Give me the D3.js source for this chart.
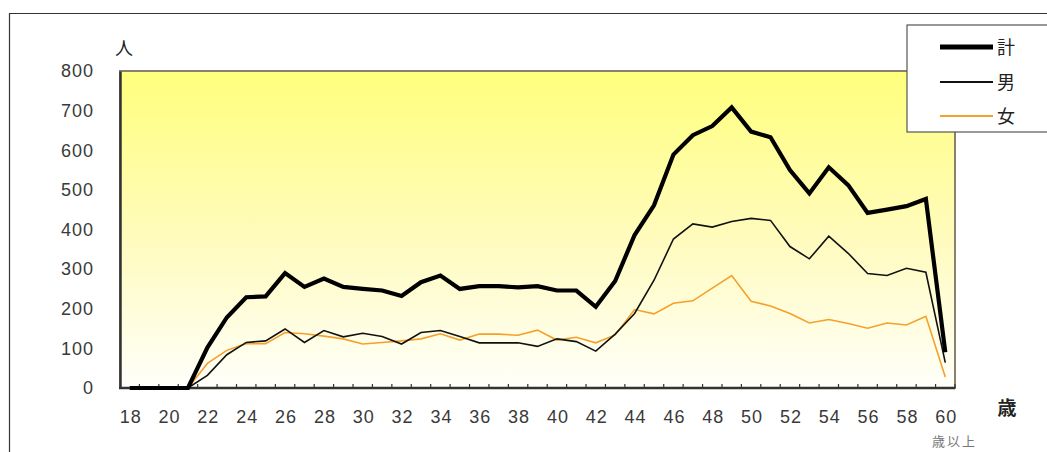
<!DOCTYPE html>
<html>
<head>
<meta charset="utf-8">
<script src="https://cdn.jsdelivr.net/npm/d3@7"></script>
<style>
  body { margin: 0; background: #fff; }
  svg { display: block; font-family: "Liberation Sans", Arial, sans-serif; }
</style>
</head>
<body>
<div id="chart"></div>
<script>
// ages 18 .. 60 (60 = 60歳以上)
var ages = d3.range(18, 61);
var tickAges = d3.range(18, 61, 2);
var yTicks = [0, 100, 200, 300, 400, 500, 600, 700, 800];

var total = [0, 0, 0, 0, 102, 178, 229, 231, 290, 255, 276, 255, 250, 246, 232, 267, 284, 250,
  257, 257, 254, 257, 246, 246, 205, 270, 386, 461, 589, 638, 661, 708, 647, 633, 550, 491,
  557, 512, 442, 450, 459, 477, 90];
var male = [0, 0, 0, 0, 32, 84, 115, 119, 149, 115, 145, 129, 138, 130, 111, 140, 145, 130,
  114, 114, 114, 105, 124, 117, 93, 136, 188, 272, 376, 414, 406, 420, 428, 423, 357, 326,
  383, 340, 289, 284, 302, 292, 64];
var female = [0, 0, 0, 0, 62, 95, 112, 112, 140, 137, 131, 124, 111, 115, 119, 124, 137, 121,
  136, 136, 133, 146, 121, 128, 114, 134, 198, 187, 214, 220, 252, 284, 219, 207, 188, 164,
  173, 163, 151, 164, 159, 181, 28];

var seriesNames = ['計', '男', '女'];
var seriesData = [total, male, female];
var seriesColor = ['#000', '#111', '#f5a02a'];
var seriesWidth = [4.2, 1.6, 1.6];

var W = 1047, H = 452;
var pLeft = 120, pRight = 955, pTop = 71, pBottom = 388;

var svg = d3.select('#chart').append('svg')
  .attr('width', W)
  .attr('height', H);

// outer frame
svg.append('path')
  .attr('d', 'M9.5,' + H + ' V13.5 H' + W)
  .attr('fill', 'none')
  .attr('stroke', '#333')
  .attr('stroke-width', 1.2);

var grad = svg.append('defs').append('linearGradient')
  .attr('id', 'bg')
  .attr('x1', 0).attr('y1', 0).attr('x2', 0).attr('y2', 1);
grad.append('stop').attr('offset', '0%').attr('stop-color', '#ffff7c');
grad.append('stop').attr('offset', '55%').attr('stop-color', '#fffbc0');
grad.append('stop').attr('offset', '100%').attr('stop-color', '#fffffa');

var x = d3.scaleBand().domain(ages).range([pLeft, pRight]);
var y = d3.scaleLinear().domain([0, 800]).range([pBottom, pTop]);

// plot background and border
svg.append('rect')
  .attr('x', pLeft).attr('y', pTop)
  .attr('width', pRight - pLeft).attr('height', pBottom - pTop)
  .attr('fill', 'url(#bg)')
  .attr('stroke', '#8a8070')
  .attr('stroke-width', 2);

// y axis
var yAxis = svg.append('g')
  .attr('transform', 'translate(' + pLeft + ',0)')
  .call(d3.axisLeft(y).tickValues(yTicks).tickSize(0).tickPadding(26));
yAxis.select('.domain').attr('stroke', '#333').attr('stroke-width', 2.5);
yAxis.selectAll('text').attr('fill', '#3a3a3a').style('font-size', '18px')
  .style('letter-spacing', '1px')
  .style('font-family', '"Liberation Sans", Arial, sans-serif');

// x axis: ticks at category boundaries, pointing up
var bounds = ages.slice(1).map(function(a) { return x(a); });
bounds.push(pRight);
svg.append('g').selectAll('line')
  .data(bounds)
  .enter().append('line')
  .attr('x1', function(d) { return d; })
  .attr('x2', function(d) { return d; })
  .attr('y1', pBottom)
  .attr('y2', pBottom - 4)
  .attr('stroke', '#333')
  .attr('stroke-width', 1.2);

svg.append('line')
  .attr('x1', pLeft - 1).attr('x2', pRight)
  .attr('y1', pBottom).attr('y2', pBottom)
  .attr('stroke', '#333')
  .attr('stroke-width', 2.5);

svg.append('g').selectAll('text')
  .data(tickAges)
  .enter().append('text')
  .attr('x', function(d) { return x(d) + x.bandwidth() / 2 + 1; })
  .attr('y', 423)
  .attr('text-anchor', 'middle')
  .attr('fill', '#3a3a3a')
  .style('font-size', '18px')
  .style('letter-spacing', '1px')
  .text(function(d) { return d; });

// lines
var line = d3.line()
  .x(function(d, i) { return x(ages[i]) + x.bandwidth() / 2; })
  .y(function(d) { return y(d); });

[2, 1, 0].forEach(function(k) {
  svg.append('path')
    .datum(seriesData[k])
    .attr('d', line)
    .attr('fill', 'none')
    .attr('stroke', seriesColor[k])
    .attr('stroke-width', seriesWidth[k])
    .attr('stroke-linejoin', 'miter');
});

// axis labels
svg.append('text')
  .attr('x', 124).attr('y', 55)
  .attr('text-anchor', 'middle')
  .attr('fill', '#222')
  .style('font-family', 'Noto Sans CJK JP')
  .style('font-size', '18px')
  .text('人');
svg.append('text')
  .attr('x', 1007).attr('y', 415)
  .attr('text-anchor', 'middle')
  .attr('fill', '#222')
  .style('font-family', 'Noto Sans CJK JP')
  .style('font-weight', 'bold')
  .style('font-size', '19px')
  .text('歳');
svg.append('text')
  .attr('x', 932).attr('y', 446)
  .attr('fill', '#777')
  .style('font-family', 'Noto Sans CJK JP')
  .style('font-size', '13px')
  .style('letter-spacing', '2px')
  .text('歳以上');

// legend
var legend = svg.append('g');
legend.append('rect')
  .attr('x', 907).attr('y', 25)
  .attr('width', 150).attr('height', 107)
  .attr('fill', '#fff')
  .attr('stroke', '#555')
  .attr('stroke-width', 1.2);
var ly = [47, 82, 116];
seriesNames.forEach(function(name, k) {
  legend.append('line')
    .attr('x1', 940).attr('x2', 993)
    .attr('y1', ly[k]).attr('y2', ly[k])
    .attr('stroke', seriesColor[k])
    .attr('stroke-width', k === 0 ? 5 : 1.8);
  legend.append('text')
    .attr('x', 997).attr('y', ly[k] + 7)
    .attr('fill', '#222')
    .style('font-family', 'Noto Sans CJK JP')
    .style('font-size', '18px')
    .text(name);
});
</script>
</body>
</html>
